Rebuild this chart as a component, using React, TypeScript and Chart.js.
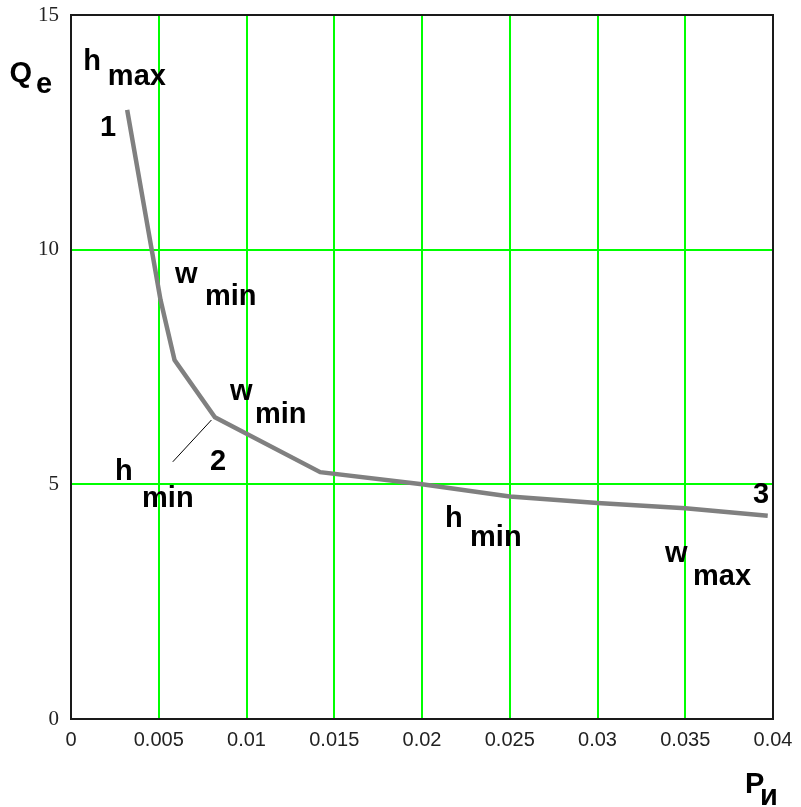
import React, { useEffect, useRef } from "react";
import { Chart, registerables } from "chart.js";

Chart.register(...registerables);

// Curve Q_e(P_И)
const curveX = [0.0032, 0.0051, 0.0059, 0.0082, 0.0142, 0.02, 0.025, 0.03, 0.035, 0.0397];
const curveY = [12.98, 8.93, 7.65, 6.43, 5.26, 5.0, 4.74, 4.6, 4.49, 4.33];

// thin leader line from "h min" to point 2
const leaderX = [0.0058, 0.008];
const leaderY = [5.48, 6.37];

const xTickLabels = ["0", "0.005", "0.01", "0.015", "0.02", "0.025", "0.03", "0.035", "0.04"];
const yTickLabels = ["0", "5", "10", "15"];

// text annotations in data units (left / baseline)
const annoText = ["Q", "e", "h", "max", "1", "w", "min", "w", "min", "h", "min", "2", "h", "min", "3", "w", "max", "P", "и"];
const annoX = [-0.0035, -0.002, 0.0007, 0.0021, 0.00165, 0.00593, 0.00763, 0.00906, 0.01048, 0.00251, 0.00405, 0.00792, 0.02131, 0.02274, 0.03886, 0.03385, 0.03544, 0.0384, 0.03926];
const annoY = [13.57, 13.34, 13.83, 13.51, 12.42, 9.3, 8.82, 6.8, 6.31, 5.09, 4.52, 5.31, 4.09, 3.69, 4.6, 3.35, 2.86, -1.58, -1.83];

const annotationPlugin = {
  id: "annotations",
  afterDatasetsDraw(chart: any) {
    const { ctx, chartArea, scales } = chart;
    ctx.save();
    // frame
    ctx.strokeStyle = "#1a1a1a";
    ctx.lineWidth = 2;
    ctx.strokeRect(chartArea.left, chartArea.top, chartArea.right - chartArea.left, chartArea.bottom - chartArea.top);
    // texts
    ctx.fillStyle = "#000";
    ctx.font = 'bold 29px "Liberation Sans", Arial, sans-serif';
    ctx.textAlign = "left";
    ctx.textBaseline = "alphabetic";
    for (let i = 0; i < annoText.length; i++) {
      const px = scales.x.getPixelForValue(annoX[i]);
      const py = scales.y.getPixelForValue(annoY[i]);
      ctx.fillText(annoText[i], px, py);
    }
    ctx.restore();
  },
};

export default function App() {
  const ref = useRef<HTMLCanvasElement | null>(null);
  useEffect(() => {
    if (!ref.current) return;
    const chart = new Chart(ref.current, {
      type: "scatter",
      data: {
        datasets: [
          {
            data: curveX.map((x, i) => ({ x, y: curveY[i] })),
            showLine: true,
            borderColor: "#808080",
            borderWidth: 4.5,
            pointRadius: 0,
            tension: 0,
          },
          {
            data: leaderX.map((x, i) => ({ x, y: leaderY[i] })),
            showLine: true,
            borderColor: "#000",
            borderWidth: 1,
            pointRadius: 0,
          },
        ],
      },
      options: {
        animation: false,
        responsive: true,
        maintainAspectRatio: false,
        layout: { padding: { left: 0, top: 15, right: 28, bottom: 0 } },
        plugins: { legend: { display: false }, tooltip: { enabled: false } },
        scales: {
          x: {
            type: "linear",
            min: 0,
            max: 0.04,
            ticks: {
              stepSize: 0.005,
              padding: 9,
              color: "#222",
              font: { family: '"Liberation Sans", Arial, sans-serif', size: 20 },
              callback: (_v: any, i: number) => xTickLabels[i],
              maxRotation: 0,
              autoSkip: false,
            },
            grid: { color: "#00ff00", lineWidth: 2, drawTicks: false },
            border: { display: false },
            afterFit: (s: any) => {
              s.height = 88;
              s.paddingLeft = 0;
              s.paddingRight = 0;
            },
          },
          y: {
            type: "linear",
            min: 0,
            max: 15,
            ticks: {
              stepSize: 5,
              padding: 12,
              color: "#222",
              font: { family: '"Liberation Serif", "Times New Roman", serif', size: 21 },
              callback: (_v: any, i: number) => yTickLabels[i],
            },
            grid: { color: "#00ff00", lineWidth: 2, drawTicks: false },
            border: { display: false },
            afterFit: (s: any) => {
              s.width = 71;
              s.paddingTop = 0;
              s.paddingBottom = 0;
            },
          },
        },
      },
      plugins: [annotationPlugin],
    });
    return () => chart.destroy();
  }, []);
  return (
    <div style={{ position: "absolute", left: 0, top: 0, width: 801, height: 807, background: "#fff" }}>
      <canvas ref={ref} />
    </div>
  );
}
